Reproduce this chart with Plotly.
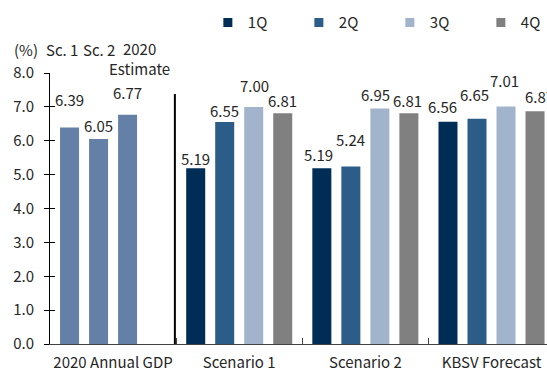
import plotly.graph_objects as go

# ---------------- data ----------------
categories = ["2020 Annual GDP", "Scenario 1", "Scenario 2", "KBSV Forecast"]
series_names = ["1Q", "2Q", "3Q", "4Q"]
q1 = [6.39, 5.19, 5.19, 6.56]
q2 = [6.05, 6.55, 5.24, 6.65]
q3 = [6.77, 7.00, 6.95, 7.01]
q4 = [None, 6.81, 6.81, 6.87]
annual_labels = ["Sc. 1", "Sc. 2", "2020<br>Estimate"]
y_ticks = [0, 1, 2, 3, 4, 5, 6, 7, 8]

# ---------------- styles ----------------
series_colors = ["#002D56", "#2C5C88", "#A2B3CC", "#808080"]
annual_color = "#6580A6"
text_color = "#262626"
FONT = "Noto Sans CJK KR"
FS = 15
# label vertical offsets (px, above bar top) and horizontal nudges, per series per category
label_yshift = [
    [28, 10, 14, 15],
    [14, 12, 27, 24],
    [22, 21, 14, 26],
    [0, 13, 13, 15],
]
label_xshift = [
    [0, 0, -3, -5],
    [0, 0, 0, -2],
    [0, 1, -4, -2],
    [0, 0, -1, 4],
]

BARGAP = 0.08
BARGROUPGAP = 0.345
n_series = 4
slot = (1 - BARGAP) / n_series

values = [q1, q2, q3, q4]
fig = go.Figure()
for i, (name, vals) in enumerate(zip(series_names, values)):
    colors = [annual_color] + [series_colors[i]] * (len(categories) - 1)
    fig.add_trace(go.Bar(
        x=categories, y=vals, name=name, marker=dict(color=colors, line=dict(width=0)),
        showlegend=False, hoverinfo="x+y+name",
    ))
    # legend proxy
    fig.add_trace(go.Scatter(
        x=[None], y=[None], mode="markers", name=name,
        marker=dict(symbol="square", size=9, color=series_colors[i]),
    ))

annotations = []
for i, vals in enumerate(values):
    for j, v in enumerate(vals):
        if v is None:
            continue
        annotations.append(dict(
            x=j + (i - (n_series - 1) / 2) * slot, y=v, xref="x", yref="y",
            text=f"{v:.2f}", showarrow=False, xanchor="center", yanchor="middle",
            yshift=label_yshift[i][j], xshift=label_xshift[i][j],
            font=dict(family=FONT, size=FS, color=text_color),
        ))

# labels above the annual bars
annual_label_xshift = [-8, 0, 12]
annual_label_yshift = [0, 0, -9]
for k, lab in enumerate(annual_labels):
    annotations.append(dict(
        x=0 + (k - (n_series - 1) / 2) * slot, y=1.086, xref="x", yref="paper",
        text=lab, showarrow=False, xanchor="center", yanchor="middle",
        xshift=annual_label_xshift[k], yshift=annual_label_yshift[k],
        font=dict(family=FONT, size=FS, color=text_color),
    ))
annotations.append(dict(
    x=-0.049, y=1.088, xref="paper", yref="paper", text="(%)", showarrow=False,
    xanchor="center", yanchor="middle",
    font=dict(family=FONT, size=FS, color=text_color),
))

fig.update_layout(
    width=547, height=371,
    margin=dict(l=50, r=0, t=73, b=27, pad=0),
    paper_bgcolor="white", plot_bgcolor="white",
    barmode="group", bargap=BARGAP, bargroupgap=BARGROUPGAP,
    font=dict(family=FONT, size=FS, color=text_color),
    annotations=annotations,
    showlegend=True,
    legend=dict(
        orientation="h", xref="container", yref="container",
        x=0.38, y=0.983, xanchor="left", yanchor="top",
        entrywidth=46, entrywidthmode="pixels", itemwidth=30,
        font=dict(family=FONT, size=FS, color=text_color),
        bgcolor="rgba(0,0,0,0)",
    ),
    shapes=[dict(
        type="line", xref="x", yref="y", x0=0.49, x1=0.49, y0=0, y1=7.38,
        line=dict(color="black", width=2),
    )],
    xaxis=dict(
        type="category", categoryorder="array", categoryarray=categories,
        range=[-0.5, 3.44], showgrid=False, showline=True, linecolor="#404040", linewidth=1,
        ticks="inside", tickson="boundaries", ticklen=6, tickcolor="#404040",
        tickangle=0, automargin=False,
        tickfont=dict(family=FONT, size=FS, color=text_color), ticklabelstandoff=5,
        fixedrange=True,
    ),
    yaxis=dict(
        range=[0, 8], tickvals=y_ticks, tickformat=".1f", showgrid=False, zeroline=False,
        showline=True, linecolor="black", linewidth=1, automargin=False,
        ticks="outside", ticklen=5, tickcolor="black",
        tickfont=dict(family=FONT, size=FS, color=text_color), ticklabelstandoff=7,
    ),
    yaxis2=dict(
        range=[0, 8], tickvals=y_ticks, overlaying="y", side="left", anchor="x",
        showticklabels=False, showgrid=False, zeroline=False, showline=False,
        ticks="inside", ticklen=5, tickcolor="black", automargin=False,
    ),
)
# attach a hidden trace to yaxis2 so it renders
fig.add_trace(go.Scatter(x=[None], y=[None], yaxis="y2", showlegend=False, hoverinfo="skip"))

fig.write_html("out.html")
